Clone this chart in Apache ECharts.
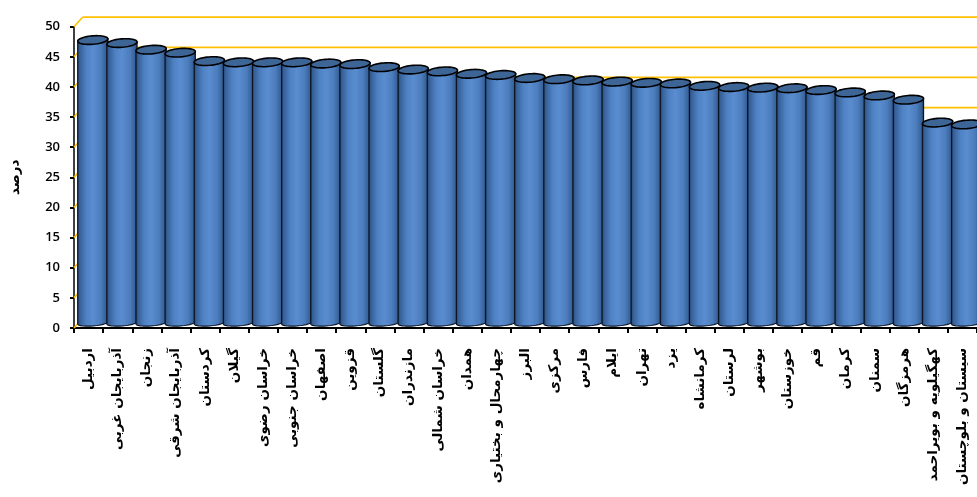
<!DOCTYPE html>
<html>
<head>
<meta charset="utf-8">
<script src="https://cdn.jsdelivr.net/npm/echarts@6/dist/echarts.min.js"></script>
<style>
  html, body { margin: 0; padding: 0; background: #ffffff; }
  #chart { width: 977px; height: 497px; }
</style>
</head>
<body>
<div id="chart"></div>
<script>
// Provinces, ordered by share (percent)
const provinces = [
  'اردبیل', 'آذربایجان غربی', 'زنجان', 'آذربایجان شرقی', 'کردستان', 'گیلان',
  'خراسان رضوی', 'خراسان جنوبی', 'اصفهان', 'قزوین', 'گلستان', 'مازندران',
  'خراسان شمالی', 'همدان', 'چهارمحال و بختیاری', 'البرز', 'مرکزی', 'فارس',
  'ایلام', 'تهران', 'یزد', 'کرمانشاه', 'لرستان', 'بوشهر', 'خوزستان', 'قم',
  'کرمان', 'سمنان', 'هرمزگان', 'کهگیلویه و بویراحمد', 'سیستان و بلوچستان'
];
const percents = [
  47.0, 46.5, 45.4, 44.9, 43.5, 43.3, 43.3, 43.3, 43.1, 43.0, 42.5, 42.1,
  41.8, 41.4, 41.2, 40.7, 40.5, 40.3, 40.1, 39.9, 39.8, 39.4, 39.2, 39.1,
  39.0, 38.7, 38.3, 37.8, 37.1, 33.3, 33.0
];
// Back-wall gridline levels
const wallLevels = [0, 5, 10, 15, 20, 25, 30, 35, 40, 45, 50];
const axisName = 'درصد';

// 3D depth of the plot box (back wall offset) in pixels
const DEPTH_X = 8.5, DEPTH_Y = -9.5;
const TILT = -0.08;   // slight tilt of the cylinder caps

function ellipsePoint(cx, cy, rx, ry, phi) {
  const c = Math.cos(TILT), s = Math.sin(TILT);
  const ex = rx * Math.cos(phi), ey = ry * Math.sin(phi);
  return [cx + ex * c - ey * s, cy + ex * s + ey * c];
}

function renderWall(params, api) {
  const level = api.value(1);
  const p = api.coord([0, level]);
  const cs = params.coordSys;
  const x0 = cs.x, y = p[1];
  const color = '#ffc000';
  return {
    type: 'group',
    children: [
      { type: 'line', shape: { x1: x0, y1: y, x2: x0 + DEPTH_X, y2: y + DEPTH_Y },
        style: { stroke: color, lineWidth: 1.6 } },
      { type: 'line', shape: { x1: x0 + DEPTH_X, y1: y + DEPTH_Y, x2: cs.x + cs.width + 10, y2: y + DEPTH_Y },
        style: { stroke: color, lineWidth: 1.8 } }
    ]
  };
}

function renderCylinder(params, api) {
  const idx = api.value(0);
  const top = api.coord([idx, api.value(1)]);
  const base = api.coord([idx, 0]);
  const w = api.size([1, 0])[0];
  const cx = top[0] + DEPTH_X / 2;
  const topY = top[1] + DEPTH_Y / 2;
  const baseY = base[1] + DEPTH_Y / 2 - 0.5;
  const rx = w / 2 + 0.6, ry = 4.2, rb = 3.2;

  const pts = [];
  pts.push(ellipsePoint(cx, topY, rx, ry, Math.PI));
  // bottom cap, front half
  const n = 24;
  for (let k = 0; k <= n; k++) {
    const phi = Math.PI - Math.PI * k / n;
    pts.push(ellipsePoint(cx, baseY, rx, rb, phi));
  }
  pts.push(ellipsePoint(cx, topY, rx, ry, 0));

  const cap = [];
  for (let k = 0; k < 48; k++) cap.push(ellipsePoint(cx, topY, rx, ry, 2 * Math.PI * k / 48));

  return {
    type: 'group',
    children: [
      {
        type: 'polygon',
        shape: { points: pts },
        style: {
          fill: new echarts.graphic.LinearGradient(0, 0, 1, 0, [
            { offset: 0, color: '#1f3a62' },
            { offset: 0.08, color: '#365f96' },
            { offset: 0.3, color: '#4f82c4' },
            { offset: 0.5, color: '#5a8dd0' },
            { offset: 0.75, color: '#4c7dbd' },
            { offset: 0.92, color: '#365f96' },
            { offset: 1, color: '#1c3558' }
          ]),
          stroke: '#0b1422',
          lineWidth: 1.2
        }
      },
      {
        type: 'polygon',
        shape: { points: cap },
        style: { fill: '#3d6596', stroke: '#000000', lineWidth: 1.6 }
      }
    ]
  };
}

const chart = echarts.init(document.getElementById('chart'), null, { renderer: 'canvas' });

chart.setOption({
  animation: false,
  backgroundColor: '#ffffff',
  grid: { left: 71, right: -2, top: 26.7, bottom: 169, containLabel: false },
  xAxis: {
    type: 'category',
    data: provinces,
    boundaryGap: true,
    axisLine: { show: true, lineStyle: { color: '#000000', width: 2 } },
    axisTick: { show: true, length: 5, lineStyle: { color: '#000000', width: 2 } },
    axisLabel: {
      interval: 0,
      rotate: 90,
      margin: 20,
      color: '#000000',
      fontFamily: 'DejaVu Sans',
      fontWeight: 'bold',
      fontSize: 13.5
    },
    splitLine: { show: false }
  },
  yAxis: {
    type: 'value',
    min: 0,
    max: 50,
    interval: 5,
    name: axisName,
    nameLocation: 'middle',
    nameGap: 52,
    nameRotate: 90,
    nameTextStyle: { color: '#000000', fontFamily: 'DejaVu Sans', fontWeight: 'bold', fontSize: 13.5 },
    axisLine: { show: true, lineStyle: { color: '#000000', width: 1.5 } },
    axisTick: { show: true, inside: false, length: 4, lineStyle: { color: '#000000', width: 2 } },
    axisLabel: {
      margin: 14,
      color: '#000000',
      fontFamily: 'Open Sans',
      fontWeight: 600,
      fontSize: 13
    },
    splitLine: { show: false }
  },
  series: [
    {
      type: 'custom',
      z: 1,
      renderItem: renderWall,
      encode: { x: 0, y: 1 },
      data: wallLevels.map(v => [0, v]),
      silent: true
    },
    {
      type: 'custom',
      z: 3,
      renderItem: renderCylinder,
      encode: { x: 0, y: 1 },
      data: percents.map((v, i) => [i, v])
    }
  ]
});
</script>
</body>
</html>
